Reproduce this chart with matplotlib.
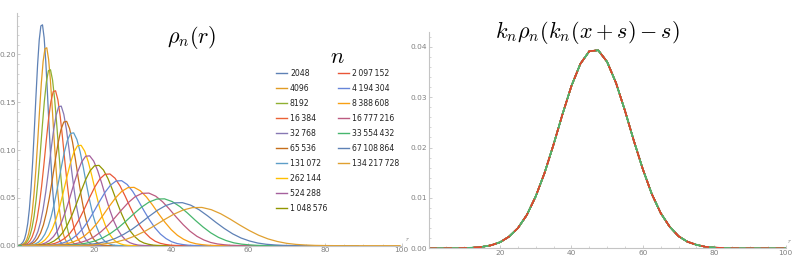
import numpy as np
import matplotlib
matplotlib.use('Agg')
import matplotlib.pyplot as plt
from matplotlib.lines import Line2D
from matplotlib.ticker import MultipleLocator

plt.rcParams['mathtext.fontset'] = 'cm'

# Master (rescaled) curve
master_x = [0, 2.5, 5, 7.5, 10, 12.5, 15, 17.5, 20, 22.5, 25, 27.5, 30, 32.5, 35,
            37.5, 40, 42.5, 45, 47.5, 50, 52.5, 55, 57.5, 60, 62.5, 65, 67.5, 70,
            72.5, 75, 77.5, 80, 82.5, 85, 87.5, 90, 92.5, 95, 97.5, 100]
master_y = [0.0, 0.0, 0.00001, 0.00002, 0.00005, 0.00013, 0.00029, 0.0006, 0.0012,
            0.0023, 0.0040, 0.0066, 0.0103, 0.0150, 0.0206, 0.0266, 0.0322, 0.0366,
            0.0391, 0.0393, 0.0370, 0.0328, 0.0273, 0.0213, 0.0157, 0.0108, 0.0070,
            0.0043, 0.0024, 0.0013, 0.0007, 0.0003, 0.00014, 0.00006, 0.00002,
            0.0, 0.0, 0.0, 0.0, 0.0, 0.0]
master_peak_x = 46.8
master_peak_y = 0.0393

# Left panel: peak position / height of each rho_n(r)
n_labels = ['2048', '4096', '8192', '16\u2009384', '32\u2009768', '65\u2009536',
            '131\u2009072', '262\u2009144', '524\u2009288', '1\u2009048\u2009576',
            '2\u2009097\u2009152', '4\u2009194\u2009304', '8\u2009388\u2009608',
            '16\u2009777\u2009216', '33\u2009554\u2009432', '67\u2009108\u2009864',
            '134\u2009217\u2009728']
peak_r = [6.4, 7.5, 8.45, 9.75, 11.2, 12.6, 14.4, 16.3, 18.5, 20.9, 23.7, 26.7,
          29.9, 33.7, 37.7, 42.3, 47.3]
peak_h = [0.231, 0.207, 0.184, 0.162, 0.146, 0.130, 0.118, 0.105, 0.094, 0.084,
          0.075, 0.068, 0.061, 0.055, 0.049, 0.045, 0.040]
colors = ['#5E81B5', '#E19C24', '#8FB032', '#EB6235', '#8778B3', '#C56E1A',
          '#5D9EC7', '#FFBF00', '#A5609D', '#929600', '#E95536', '#6685D9',
          '#F89F13', '#BC5B80', '#47B66D', '#5E81B5', '#E0A030']

axis_color = '#C4C4C4'
tick_color = '#808080'

fig = plt.figure(figsize=(7.93, 2.59), dpi=100)
ax1 = fig.add_axes([0.022, 0.0514, 0.4846, 0.8986])
ax2 = fig.add_axes([0.5405, 0.0413, 0.4502, 0.8363])

mx = np.array(master_x)
my = np.array(master_y)

# Left: each curve is the master shape moved to its peak
for r0, h, c in zip(peak_r, peak_h, colors):
    k = master_peak_y / h
    ax1.plot(k * (mx - master_peak_x) + r0, my / k, color=c, lw=0.9,
             solid_joinstyle='round')

# Right: all curves collapse onto the master shape
for c in colors:
    ax2.plot(mx, my, color=c, lw=1.0)
ax2.plot(mx, my, color='#47B66D', lw=1.2)
ax2.plot(mx, my, color='#E8402A', lw=1.2, ls=(0, (5, 4)))

ax1.set_xlim(0, 100)
ax1.set_ylim(0, 0.2434)
ax2.set_xlim(0, 100)
ax2.set_ylim(0, 0.04298)

for ax, ystep, yminor in [(ax1, 0.05, 0.01), (ax2, 0.01, 0.002)]:
    for s in ['top', 'right']:
        ax.spines[s].set_visible(False)
    for s in ['left', 'bottom']:
        ax.spines[s].set_color(axis_color)
        ax.spines[s].set_linewidth(0.8)
    ax.set_facecolor('none')
    ax.xaxis.set_minor_locator(MultipleLocator(5))
    ax.yaxis.set_minor_locator(MultipleLocator(yminor))
    ax.tick_params(which='major', direction='in', length=2.5, width=0.6,
                   color=axis_color, labelsize=5.3, labelcolor=tick_color, pad=1.2)
    ax.tick_params(which='minor', direction='in', length=1.3, width=0.5,
                   color=axis_color)
    xt = [20, 40, 60, 80, 100]
    ax.set_xticks(xt)
    ax.set_xticklabels([str(v) for v in xt])

ax1.set_yticks([0, 0.05, 0.10, 0.15, 0.20])
ax1.set_yticklabels(['0.00', '0.05', '0.10', '0.15', '0.20'])
ax2.set_yticks([0, 0.01, 0.02, 0.03, 0.04])
ax2.set_yticklabels(['0.00', '0.01', '0.02', '0.03', '0.04'])

# small axis label "r" at the end of each x axis
ax1.text(1.008, 0.02, '$r$', transform=ax1.transAxes, fontsize=5, color=tick_color)
ax2.text(1.004, 0.025, '$r$', transform=ax2.transAxes, fontsize=5, color=tick_color)

# Titles
fig.text(0.242, 0.857, r'$\rho_n(r)$', fontsize=16, ha='center', va='center')
fig.text(0.741, 0.875, r'$k_n\rho_n(k_n(x+s)-s)$', fontsize=16, ha='center', va='center')

# Legend
fig.text(0.426, 0.78, r'$n$', fontsize=16, ha='center', va='center')
col_x = [276, 338]
for i, (lab, c) in enumerate(zip(n_labels, colors)):
    col = 0 if i < 10 else 1
    row = i if i < 10 else i - 10
    x0 = col_x[col]
    y = 259 - (73.3 + 15 * row)
    fig.add_artist(Line2D([x0 / 793, (x0 + 11) / 793], [y / 259, y / 259],
                          color=c, lw=1.0, transform=fig.transFigure))
    fig.text((x0 + 14) / 793, y / 259, lab, fontsize=5.6, ha='left', va='center',
             color='#222222')

fig.savefig('out.png', dpi=100, facecolor='white')
